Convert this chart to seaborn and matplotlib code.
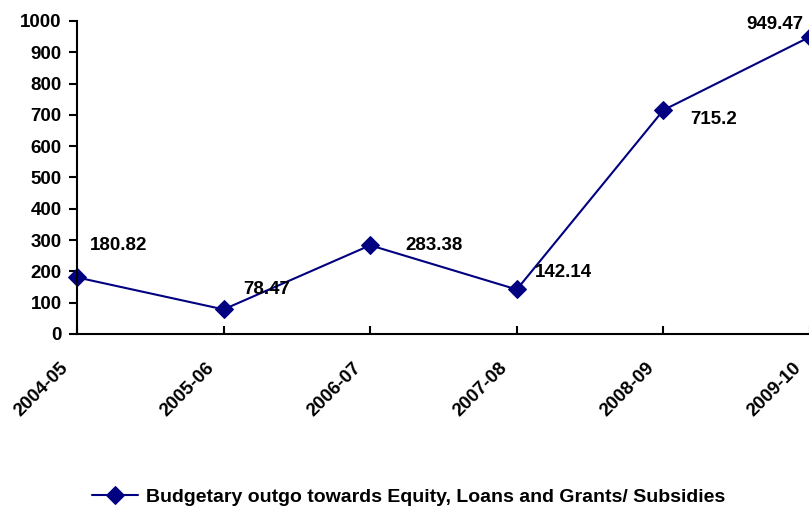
import matplotlib
matplotlib.use("Agg")
import matplotlib.pyplot as plt
import seaborn as sns
import pandas as pd

years = ["2004-05", "2005-06", "2006-07", "2007-08", "2008-09", "2009-10"]
outgo = [180.82, 78.47, 283.38, 142.14, 715.2, 949.47]
label_texts = ["180.82", "78.47", "283.38", "142.14", "715.2", "949.47"]
series_name = "Budgetary outgo towards Equity, Loans and Grants/ Subsidies"
y_ticks = [0, 100, 200, 300, 400, 500, 600, 700, 800, 900, 1000]

sns.set_theme(style="white")
plt.rcParams["font.family"] = ["Liberation Sans", "DejaVu Sans"]
plt.rcParams["font.weight"] = "bold"
plt.rcParams["text.color"] = "black"
plt.rcParams["xtick.color"] = "black"
plt.rcParams["ytick.color"] = "black"

FS = 13.5
df = pd.DataFrame({"pos": range(len(years)), "value": outgo, "series": series_name})

fig = plt.figure(figsize=(8.09, 5.12), dpi=100)
ax = fig.add_axes([0.0952, 0.3477, 0.906, 0.6113])

color = "#000080"
sns.lineplot(data=df, x="pos", y="value", ax=ax, color=color, marker="D",
             markersize=9.5, linewidth=1.5, markeredgecolor=color, label=series_name,
             clip_on=False)

# data labels: offsets in points (dx, dy) and horizontal alignment
offsets = [(9, 23), (14, 14), (25, 0), (13, 12), (19, -7), (-5, 9)]
aligns = ["left", "left", "left", "left", "left", "right"]
for i, (v, t) in enumerate(zip(outgo, label_texts)):
    ax.annotate(t, (i, v), xytext=offsets[i], textcoords="offset points",
                fontsize=FS, fontweight="bold", color="black",
                ha=aligns[i], va="center", annotation_clip=False)

ax.set_xlim(0, len(years) - 1)
ax.set_ylim(0, 1000)
ax.set_yticks(y_ticks)
ax.set_yticklabels([str(v) for v in y_ticks], fontsize=FS, fontweight="bold")
ax.set_xticks(range(len(years)))
ax.set_xticklabels([])
# rotated category labels placed below each tick
for i, yr in enumerate(years):
    ax.annotate(yr, (i, 0), xycoords=("data", "axes fraction"), xytext=(-8.5, -22.5),
                textcoords="offset points", rotation=45, ha="right", va="center",
                rotation_mode="anchor", fontsize=FS, fontweight="bold", color="black",
                annotation_clip=False)
ax.set_xlabel("")
ax.set_ylabel("")

for s in ["top", "right"]:
    ax.spines[s].set_visible(False)
for s in ["left", "bottom"]:
    ax.spines[s].set_color("black")
    ax.spines[s].set_linewidth(1.5)

ax.tick_params(axis="y", direction="out", length=6, width=1.5, color="black", left=True, pad=5)
ax.tick_params(axis="x", direction="in", length=6, width=1.5, color="black", bottom=True)

ax.legend_.remove()
handles, labels = ax.get_legend_handles_labels()
fig.legend(handles, labels, loc="center", bbox_to_anchor=(0.505, 0.029), frameon=False,
           prop={"size": 14, "weight": "bold"}, handlelength=2.4, handletextpad=0.4)

fig.savefig("out.png", dpi=100)
